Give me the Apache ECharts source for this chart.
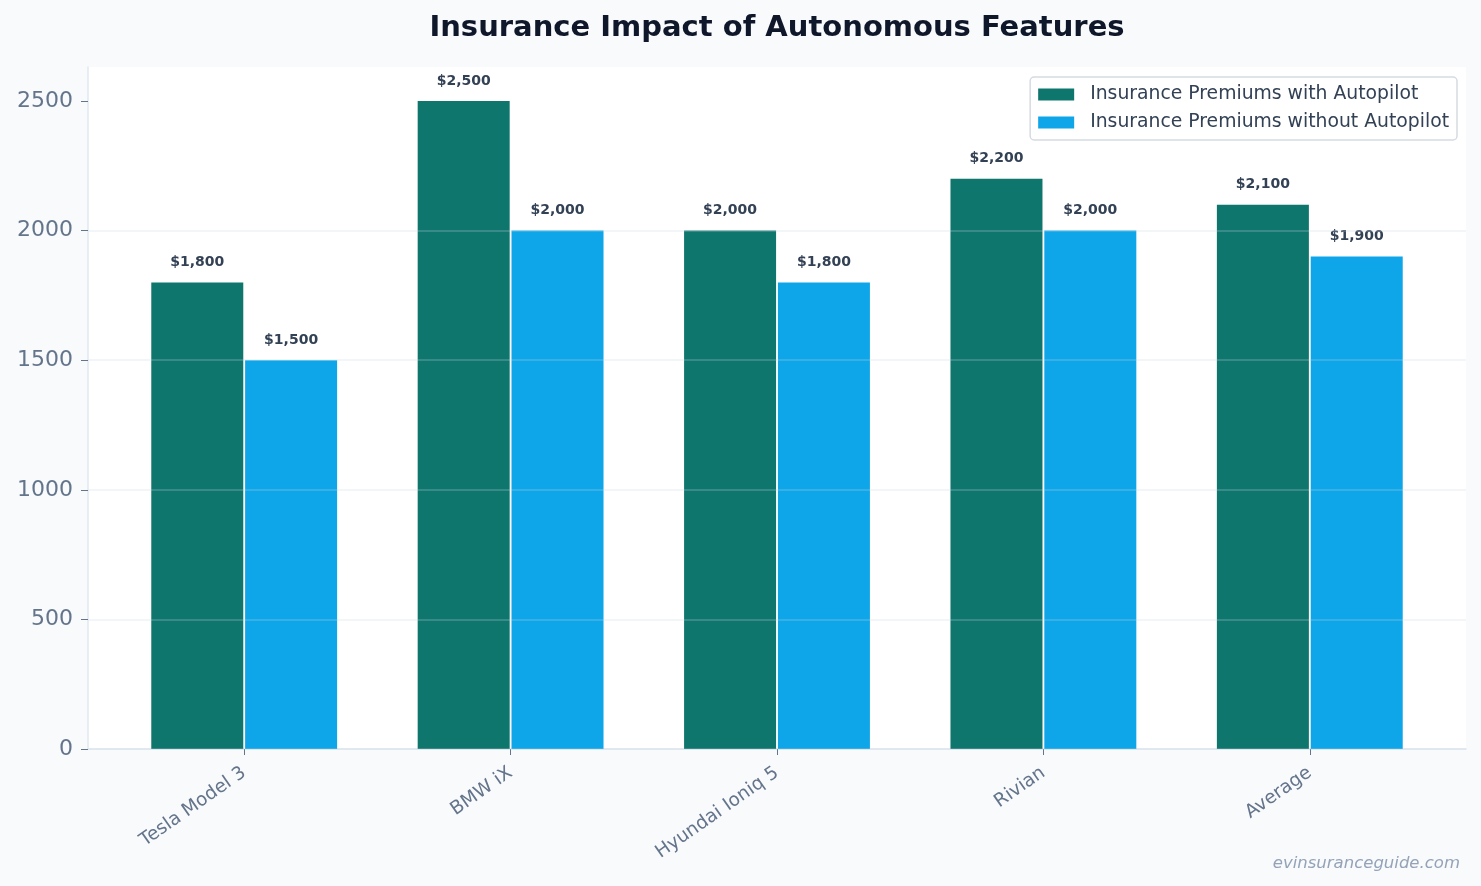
<!DOCTYPE html>
<html>
<head>
<meta charset="utf-8">
<script src="https://cdn.jsdelivr.net/npm/echarts@6/dist/echarts.min.js"></script>
<style>
  html, body { margin: 0; padding: 0; background: #f8fafc; }
  #chart { width: 1481px; height: 886px; }
</style>
</head>
<body>
<div id="chart"></div>
<script>
  var categories = ['Tesla Model 3', 'BMW iX', 'Hyundai Ioniq 5', 'Rivian', 'Average'];
  var withAutopilot = [1800, 2500, 2000, 2200, 2100];
  var withoutAutopilot = [1500, 2000, 1800, 2000, 1900];
  var yTicks = [0, 500, 1000, 1500, 2000, 2500];
  var yMax = 2631;

  var chart = echarts.init(document.getElementById('chart'));
  var font = 'DejaVu Sans';

  function money(p) {
    return '$' + p.value.toLocaleString('en-US');
  }

  var option = {
    backgroundColor: '#f8fafc',
    textStyle: { fontFamily: font },
    title: {
      text: 'Insurance Impact of Autonomous Features',
      left: 772,
      textAlign: 'center',
      top: 9,
      textStyle: { fontFamily: font, fontSize: 29, fontWeight: 'bold', color: '#0f172a' }
    },
    legend: {
      orient: 'vertical',
      right: 24,
      top: 77,
      icon: 'rect',
      itemWidth: 36,
      itemHeight: 12,
      itemGap: 9,
      padding: [8, 8, 8, 8],
      backgroundColor: '#ffffff',
      borderColor: '#d5dbe2',
      borderWidth: 1.5,
      borderRadius: 4,
      textStyle: { fontFamily: font, fontSize: 18.8, color: '#334155', padding: [0, 0, 0, 11] },
      data: ['Insurance Premiums with Autopilot', 'Insurance Premiums without Autopilot']
    },
    grid: [
      { left: 88, right: 15, top: 67, bottom: 137, show: true, backgroundColor: '#ffffff', borderWidth: 0 },
      { left: 111, right: 38, top: 67, bottom: 137 }
    ],
    xAxis: [
      {
        gridIndex: 0, type: 'category', data: [''],
        axisLine: { show: true, lineStyle: { color: '#e2e8f0', width: 1.5 } },
        axisTick: { show: false }, axisLabel: { show: false }
      },
      {
        gridIndex: 1, type: 'category', data: categories,
        axisLine: { show: false },
        axisTick: { show: true, alignWithLabel: true, length: 6, lineStyle: { color: '#64748b' } },
        axisLabel: { rotate: 35, fontFamily: font, fontSize: 18.5, color: '#64748b', margin: 22 }
      }
    ],
    yAxis: [
      {
        gridIndex: 0, type: 'value', min: 0, max: yMax, interval: 500, z: 5,
        axisLine: { show: true, lineStyle: { color: '#e2e8f0', width: 1.5 } },
        axisTick: { show: true, length: 7, customValues: yTicks, lineStyle: { color: '#64748b' } },
        axisLabel: { customValues: yTicks, formatter: function (v) { return String(v); },
          fontFamily: font, fontSize: 22, color: '#64748b', margin: 15 },
        splitLine: { show: true, showMaxLine: false, lineStyle: { color: 'rgba(203,213,225,0.3)', width: 1.5 } }
      },
      { gridIndex: 1, type: 'value', min: 0, max: yMax, show: false }
    ],
    series: [
      {
        name: 'Insurance Premiums with Autopilot',
        type: 'bar', xAxisIndex: 1, yAxisIndex: 1,
        data: withAutopilot,
        barWidth: 92, barGap: '2%',
        itemStyle: { color: '#0f766e' },
        label: { show: true, position: 'top', distance: 13, formatter: money,
          fontFamily: font, fontSize: 14, fontWeight: 'bold', color: '#334155' }
      },
      {
        name: 'Insurance Premiums without Autopilot',
        type: 'bar', xAxisIndex: 1, yAxisIndex: 1,
        data: withoutAutopilot,
        barWidth: 92,
        itemStyle: { color: '#0ea5e9' },
        label: { show: true, position: 'top', distance: 13, formatter: money,
          fontFamily: font, fontSize: 14, fontWeight: 'bold', color: '#334155' }
      }
    ],
    graphic: [
      {
        type: 'text', right: 21, bottom: 14,
        style: { text: 'evinsuranceguide.com', fontFamily: font, fontSize: 16.5, fontStyle: 'italic', fill: '#94a3b8' }
      }
    ]
  };

  chart.setOption(option);
</script>
</body>
</html>
